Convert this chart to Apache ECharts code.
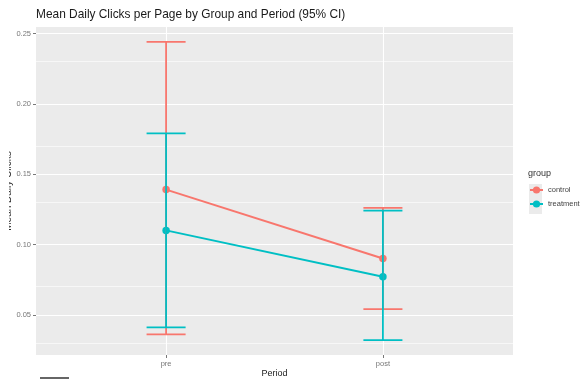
<!DOCTYPE html>
<html>
<head>
<meta charset="utf-8">
<script src="https://cdn.jsdelivr.net/npm/echarts@6/dist/echarts.min.js"></script>
<style>
  html, body { margin: 0; padding: 0; background: #fff; }
  #chart { width: 581px; height: 380px; }
</style>
</head>
<body>
<div id="chart"></div>
<script>
// Periods on the x axis and the two groups compared
const periods = ['pre', 'post'];
const groups = ['control', 'treatment'];

// Mean daily clicks per page with 95% confidence bounds, one value per period
const controlMean = [0.139, 0.090];
const controlLower = [0.036, 0.054];
const controlUpper = [0.244, 0.126];
const treatmentMean = [0.110, 0.077];
const treatmentLower = [0.041, 0.032];
const treatmentUpper = [0.179, 0.124];

// Axis breaks
const yTicks = [0.05, 0.10, 0.15, 0.20, 0.25];
const yMinorTicks = [0.025, 0.075, 0.125, 0.175, 0.225];

const colors = { control: '#F8766D', treatment: '#00BFC4' };
const FONT = 'Liberation Sans, Arial, sans-serif';

// y range padded 5% beyond the confidence bounds
const allLow = controlLower.concat(treatmentLower);
const allHigh = controlUpper.concat(treatmentUpper);
const lo = Math.min.apply(null, allLow);
const hi = Math.max.apply(null, allHigh);
const pad = (hi - lo) * 0.05;
const yMin = lo - pad;
const yMax = hi + pad;

// discrete positions 1..n with 0.6 padding on each side
const xPos = periods.map((p, i) => i + 1);
const xMin = 0.4;
const xMax = periods.length + 0.6;

const pairs = (vals) => vals.map((v, i) => [xPos[i], v]);
const bars = (low, high) => low.map((v, i) => [xPos[i], v, high[i]]);

const CAP_HALF = 0.09;
function errorBar(color) {
  return function (params, api) {
    const x = api.value(0);
    const top = api.coord([x, api.value(2)]);
    const bot = api.coord([x, api.value(1)]);
    const half = api.coord([x + CAP_HALF, api.value(2)])[0] - top[0];
    const seg = (x1, y1, x2, y2) => ({
      type: 'line',
      shape: { x1: x1, y1: y1, x2: x2, y2: y2 },
      style: { stroke: color, lineWidth: 1.8, fill: null }
    });
    return {
      type: 'group',
      children: [
        seg(top[0], top[1], bot[0], bot[1]),
        seg(top[0] - half, top[1], top[0] + half, top[1]),
        seg(bot[0] - half, bot[1], bot[0] + half, bot[1])
      ]
    };
  };
}

const gridMajor = { color: '#FFFFFF', width: 1.1, type: 'solid' };
const gridMinor = { color: '#FFFFFF', width: 0.6, type: 'solid' };
const gridLines = []
  .concat(yMinorTicks.filter(v => v > yMin && v < yMax).map(v => ({ yAxis: v, lineStyle: gridMinor })))
  .concat(yTicks.map(v => ({ yAxis: v, lineStyle: gridMajor })))
  .concat(xPos.map(v => ({ xAxis: v, lineStyle: gridMajor })));

const chart = echarts.init(document.getElementById('chart'), null, { renderer: 'canvas' });
chart.setOption({
  animation: false,
  backgroundColor: '#FFFFFF',
  textStyle: { fontFamily: FONT },
  title: [
    {
      text: 'Mean Daily Clicks per Page by Group and Period (95% CI)',
      left: 36, top: 9, padding: 0,
      textStyle: { fontSize: 11.9, fontWeight: 'normal', color: '#1a1a1a', fontFamily: FONT }
    },
    {
      text: 'group',
      left: 528, top: 169, padding: 0,
      textStyle: { fontSize: 9, fontWeight: 'normal', color: '#333', fontFamily: FONT }
    }
  ],
  grid: {
    left: 36, right: 68, top: 27, bottom: 25,
    containLabel: false,
    outerBoundsMode: 'none',
    show: true, backgroundColor: '#EBEBEB', borderWidth: 0
  },
  legend: {
    data: groups,
    orient: 'vertical',
    left: 529, top: 186, padding: 0,
    itemWidth: 13, itemHeight: 9, itemGap: 6,
    textStyle: { fontSize: 7.5, color: '#444', fontFamily: FONT }
  },
  graphic: [
    { type: 'rect', left: 529, top: 184, shape: { width: 13, height: 30 }, style: { fill: '#EBEBEB' }, z: -1 },
    { type: 'rect', left: 0, top: 140, shape: { width: 9, height: 110 }, style: { fill: '#FFFFFF' }, z: 100 },
    { type: 'line', shape: { x1: 40, y1: 378, x2: 69, y2: 378 }, style: { stroke: '#666', lineWidth: 2 } }
  ],
  xAxis: {
    type: 'value',
    min: xMin, max: xMax,
    name: 'Period',
    nameLocation: 'middle',
    nameGap: 14,
    nameMoveOverlap: false,
    nameTextStyle: { fontSize: 9, color: '#222', fontFamily: FONT },
    axisLine: { show: false },
    splitLine: { show: false },
    axisTick: { show: true, customValues: xPos, length: 3, lineStyle: { color: '#555', width: 0.8 } },
    axisLabel: {
      customValues: xPos,
      formatter: v => periods[Math.round(v) - 1],
      margin: 5, fontSize: 7.5, color: '#777', fontFamily: FONT
    }
  },
  yAxis: {
    type: 'value',
    min: yMin, max: yMax,
    name: 'Mean Daily Clicks',
    nameLocation: 'middle',
    nameRotate: 90,
    nameGap: 23,
    nameMoveOverlap: false,
    nameTextStyle: { fontSize: 10, color: '#333', fontFamily: FONT },
    axisLine: { show: false },
    splitLine: { show: false },
    axisTick: { show: true, customValues: yTicks, length: 3, lineStyle: { color: '#555', width: 0.8 } },
    axisLabel: {
      customValues: yTicks,
      formatter: v => v.toFixed(2),
      margin: 5, fontSize: 7.5, color: '#777', fontFamily: FONT
    }
  },
  series: [
    {
      name: 'gridlines',
      type: 'line',
      data: [],
      z: 1,
      silent: true,
      markLine: { z: 1, silent: true, symbol: 'none', label: { show: false }, animation: false, data: gridLines }
    },
    {
      name: 'control', type: 'line', data: pairs(controlMean), z: 2,
      color: colors.control,
      lineStyle: { width: 2, color: colors.control },
      symbol: 'circle', symbolSize: 7.5,
      itemStyle: { color: colors.control }
    },
    {
      name: 'treatment', type: 'line', data: pairs(treatmentMean), z: 2,
      color: colors.treatment,
      lineStyle: { width: 2, color: colors.treatment },
      symbol: 'circle', symbolSize: 7.5,
      itemStyle: { color: colors.treatment }
    },
    {
      name: 'control CI', type: 'custom', z: 3,
      data: bars(controlLower, controlUpper),
      encode: { x: 0, y: [1, 2] },
      renderItem: errorBar(colors.control)
    },
    {
      name: 'treatment CI', type: 'custom', z: 3,
      data: bars(treatmentLower, treatmentUpper),
      encode: { x: 0, y: [1, 2] },
      renderItem: errorBar(colors.treatment)
    }
  ]
});
</script>
</body>
</html>
